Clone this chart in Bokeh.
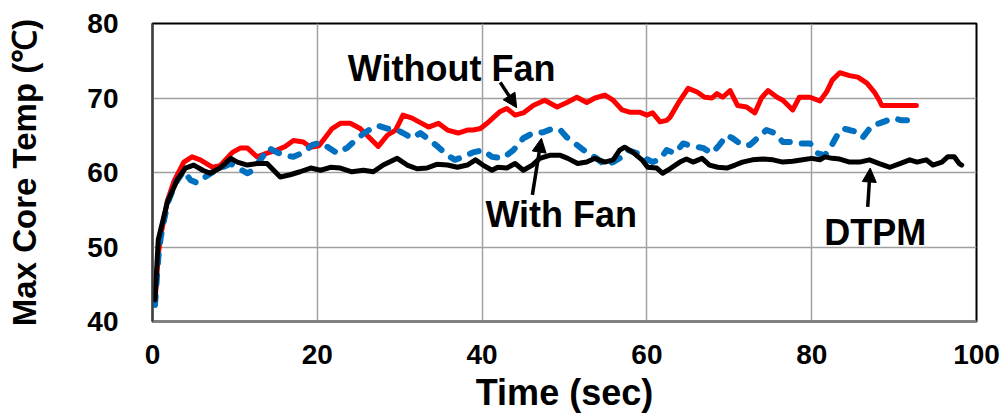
from bokeh.plotting import figure
from bokeh.models import Range1d, Arrow, NormalHead, Label, FixedTicker
from bokeh.embed import file_html
from bokeh.resources import INLINE

# ---- data ----
red_t = [0.3, 0.7, 1.0, 1.8, 2.6, 3.8, 4.8, 5.8, 7.3, 8.2, 9.7, 10.7, 11.5, 12.7, 13.9, 15.1, 16.1, 17.1,
         18.3, 19.2, 20.2, 20.9, 21.8, 22.8, 24.0, 25.2, 26.4, 27.4, 28.5, 29.5, 30.4, 31.5, 32.5, 33.5,
         34.7, 35.8, 37.1, 38.2, 38.9, 39.8, 40.6, 41.3, 42.2, 43.0, 44.0, 45.0, 46.2, 47.6, 49.1, 50.3,
         51.5, 52.7, 53.7, 54.9, 55.9, 57.0, 57.9, 59.1, 60.0, 60.7, 61.6, 62.4, 62.8, 63.8, 65.0, 66.1,
         67.0, 67.9, 68.5, 69.2, 70.1, 71.0, 72.1, 73.1, 73.9, 74.7, 75.8, 76.5, 77.7, 78.5, 79.8, 81.0,
         81.8, 82.5, 83.4, 84.6, 85.6, 86.7, 87.6, 88.2, 88.5, 92.7]
red_v = [42.5, 49.0, 51.5, 56.2, 58.8, 61.4, 62.1, 61.7, 60.7, 60.9, 62.7, 63.3, 63.3, 62.1, 62.6, 63.0, 63.5, 64.3,
         64.1, 63.4, 63.6, 64.6, 65.9, 66.6, 66.6, 65.9, 64.6, 63.5, 65.0, 65.7, 67.7, 67.3, 66.7, 66.1,
         66.6, 65.7, 65.3, 65.7, 65.7, 65.9, 66.6, 67.3, 68.2, 68.6, 67.7, 68.0, 69.0, 69.7, 68.8, 69.4,
         70.1, 69.4, 70.0, 70.4, 69.7, 68.4, 68.1, 68.1, 67.7, 68.0, 66.8, 67.0, 67.4, 69.3, 71.3, 70.8,
         70.1, 70.0, 70.6, 70.1, 71.0, 69.0, 68.8, 68.0, 70.0, 71.0, 70.1, 69.7, 68.4, 70.1, 70.1, 69.6,
         70.8, 72.4, 73.4, 73.0, 72.8, 72.0, 70.8, 69.7, 69.0, 69.0]

blue_t = [0.3, 0.7, 1.0, 1.8, 2.8, 3.8, 4.6, 5.4, 6.4, 7.4, 8.5, 9.5, 10.4, 11.5, 12.2, 13.1, 14.1, 15.1,
          16.1, 17.1, 18.3, 19.4, 20.4, 21.3, 22.4, 23.6, 24.6, 25.8, 27.3, 28.5, 29.7, 30.4, 31.5, 32.5,
          33.7, 34.7, 35.8, 36.7, 37.7, 38.9, 40.1, 41.2, 42.5, 43.8, 45.0, 46.2, 47.4, 48.6, 49.5, 50.3,
          51.5, 52.7, 53.9, 54.9, 55.9, 57.0, 57.7, 58.8, 59.8, 60.7, 61.6, 62.4, 63.4, 64.4, 65.6, 66.8,
          67.9, 68.8, 69.7, 70.4, 71.5, 72.5, 73.7, 74.5, 75.5, 76.5, 77.6, 78.5, 79.8, 80.7, 81.6, 82.4,
          83.2, 83.8, 84.6, 85.6, 86.2, 87.3, 88.2, 89.2, 89.9, 90.9, 92.7]
blue_v = [42.2, 48.5, 51.3, 55.8, 58.6, 60.2, 59.0, 58.6, 59.4, 60.1, 60.7, 61.2, 60.6, 59.9, 60.3, 61.7, 63.3, 62.7,
          62.3, 62.1, 62.7, 63.7, 64.0, 63.4, 62.6, 63.3, 64.3, 65.4, 66.3, 65.9, 65.7, 65.3, 64.6, 65.3,
          64.3, 63.4, 62.3, 61.7, 62.1, 62.7, 63.0, 62.1, 61.9, 63.0, 64.6, 65.3, 65.4, 65.9, 65.7, 64.7,
          63.7, 62.7, 61.9, 61.0, 61.4, 62.1, 63.0, 62.6, 61.9, 61.4, 61.8, 63.0, 62.6, 63.9, 63.5, 63.3,
          62.6, 63.7, 65.0, 64.6, 63.7, 63.7, 64.9, 65.7, 65.3, 64.1, 64.1, 63.9, 63.9, 62.6, 62.3, 63.6,
          65.2, 65.9, 65.7, 65.4, 64.7, 66.3, 66.6, 67.0, 67.3, 67.0, 67.0]

black_t = [0.3, 0.7, 1.8, 3.0, 4.0, 5.0, 6.1, 7.0, 8.2, 9.5, 10.3, 11.5, 12.7, 13.9, 14.7, 15.5, 16.7, 17.9,
           19.2, 20.4, 21.6, 22.8, 24.2, 25.6, 26.8, 28.0, 29.7, 30.9, 32.1, 33.3, 34.5, 35.8, 37.0, 38.2,
           39.2, 40.1, 41.2, 41.9, 43.0, 44.0, 45.0, 46.1, 47.0, 48.2, 49.5, 50.4, 51.6, 52.7, 53.7, 54.9,
           55.9, 56.7, 57.3, 58.3, 59.4, 60.1, 61.2, 61.9, 62.8, 64.0, 64.8, 65.6, 66.7, 67.6, 68.6, 69.7,
           70.7, 71.6, 72.8, 74.1, 75.3, 76.5, 77.7, 78.9, 80.0, 81.0, 81.6, 82.5, 83.4, 84.6, 85.8, 87.0,
           88.2, 89.5, 90.7, 91.9, 92.8, 93.9, 94.7, 95.8, 96.5, 97.3, 97.9, 98.2]
black_v = [42.9, 51.0, 56.0, 59.0, 60.6, 61.0, 60.3, 59.9, 60.6, 61.9, 61.4, 61.0, 61.2, 61.2, 60.3, 59.4, 59.7, 60.1,
           60.6, 60.3, 60.7, 60.6, 60.1, 60.3, 60.1, 61.0, 61.9, 61.0, 60.5, 60.6, 61.1, 61.0, 60.7, 61.0,
           61.7, 61.0, 60.3, 60.7, 60.6, 61.2, 60.3, 61.0, 61.9, 62.3, 62.3, 61.9, 61.2, 61.4, 61.9, 61.4,
           61.7, 63.0, 63.4, 62.7, 61.7, 60.7, 60.6, 59.9, 60.5, 61.4, 61.8, 61.4, 61.9, 61.0, 60.7, 60.6,
           61.0, 61.4, 61.7, 61.8, 61.7, 61.4, 61.5, 61.7, 61.9, 61.7, 62.1, 61.9, 61.8, 61.4, 61.4, 61.7,
           61.2, 60.7, 61.2, 61.7, 61.4, 61.7, 61.0, 61.4, 62.1, 62.1, 61.2, 61.0]

x_ticks = [0, 20, 40, 60, 80, 100]
y_ticks = [40, 50, 60, 70, 80]

# annotation anchors (data coords)
ann_labels = ["Without Fan", "With Fan", "DTPM"]
ann_text_xy = [(36.3, 74.0), (49.6, 54.3), (87.7, 51.9)]
ann_arrows = [((42.2, 72.1), (44.2, 68.7)), ((46.1, 57.0), (47.2, 64.6)), ((86.8, 55.4), (87.1, 60.6))]

FONT = "Liberation Sans"

p = figure(width=1003, height=420, output_backend="svg", toolbar_location=None,
           x_range=Range1d(0, 100), y_range=Range1d(40, 80),
           min_border_left=152, min_border_right=27, min_border_top=23, min_border_bottom=99)
p.background_fill_color = "white"
p.border_fill_color = "white"
p.outline_line_color = "black"
p.outline_line_width = 2

for ax in (p.xaxis[0], p.yaxis[0]):
    ax.major_label_text_font = FONT
    ax.major_label_text_font_style = "bold"
    ax.major_label_text_font_size = "28px"
    ax.major_label_text_color = "black"
    ax.axis_label_text_font = FONT
    ax.axis_label_text_font_style = "bold"
    ax.axis_label_text_color = "black"
    ax.major_tick_line_color = None
    ax.minor_tick_line_color = None

p.xaxis.ticker = FixedTicker(ticks=x_ticks)
p.yaxis.ticker = FixedTicker(ticks=y_ticks)
p.xaxis.axis_label = "Time (sec)"
p.yaxis.axis_label = "Max Core Temp (℃)"
p.xaxis.axis_label_text_font_size = "36px"
p.yaxis.axis_label_text_font_size = "33px"
p.xaxis.major_label_standoff = 17
p.yaxis.major_label_standoff = 28
p.xaxis.axis_label_standoff = 5
p.yaxis.axis_label_standoff = 41
p.xaxis.axis_line_color = "#808080"
p.xaxis.axis_line_width = 3
p.yaxis.axis_line_color = "#404040"
p.yaxis.axis_line_width = 2

p.xgrid.grid_line_color = "#a0a0a0"
p.ygrid.grid_line_color = "#a0a0a0"
p.xgrid.grid_line_width = 1.5
p.ygrid.grid_line_width = 1.5

p.line(red_t, red_v, line_color="#ff0000", line_width=5, line_join="round", line_cap="round")
p.line(blue_t, blue_v, line_color="#0070c0", line_width=6, line_dash="9 12", line_cap="round", line_join="round")
p.line(black_t, black_v, line_color="black", line_width=5, line_join="round", line_cap="round")

for lab, (tx, ty) in zip(ann_labels, ann_text_xy):
    p.add_layout(Label(x=tx, y=ty, text=lab, text_font=FONT, text_font_style="bold",
                       text_font_size="36px", text_color="black",
                       text_align="center", text_baseline="middle"))
for (x0, y0), (x1, y1) in ann_arrows:
    p.add_layout(Arrow(x_start=x0, y_start=y0, x_end=x1, y_end=y1, line_width=3.5, line_color="black",
                       end=NormalHead(size=14, fill_color="black", line_color="black")))

open("out.html", "w").write(file_html(p, INLINE))
